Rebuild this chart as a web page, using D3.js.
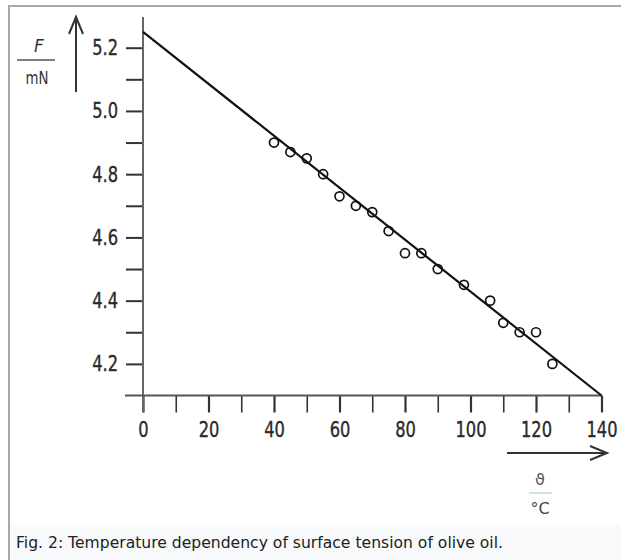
<!DOCTYPE html>
<html>
<head>
<meta charset="utf-8">
<script src="https://cdn.jsdelivr.net/npm/d3@7"></script>
<style>
    body { margin: 0; background: #fff; }
    svg { display: block; }
</style>
</head>
<body>
<script>
// measured points (temperature in °C, surface tension in mN)
const temps = [40, 45, 50, 55, 60, 65, 70, 75, 80, 85, 90, 98, 106, 110, 115, 120, 125]
const tension = [4.90, 4.87, 4.85, 4.80, 4.73, 4.70, 4.68, 4.62, 4.55, 4.55, 4.50, 4.45, 4.40, 4.33, 4.30, 4.30, 4.20]

// fitted straight line
const fitX = [0, 140]
const fitY = [5.25, 4.10]

const xMajor = [0, 20, 40, 60, 80, 100, 120, 140]
const xMinor = [10, 30, 50, 70, 90, 110, 130]
const yMajor = [4.2, 4.4, 4.6, 4.8, 5.0, 5.2]
const yMinor = [4.3, 4.5, 4.7, 4.9, 5.1]

const caption = "Fig. 2: Temperature dependency of surface tension of olive oil."

const WIDTH = 621
const HEIGHT = 560
const SQUEEZE = 0.74

const svg = d3.select("body")
    .append("svg")
    .attr("width", WIDTH)
    .attr("height", HEIGHT)

const xScale = d3.scaleLinear()
    .domain([0, 140])
    .range([143, 601.5])

const yScale = d3.scaleLinear()
    .domain([4.1, 5.2])
    .range([395.5, 47.7])

// frame and caption band
svg.append("rect")
    .attr("x", 9).attr("y", 525)
    .attr("width", WIDTH - 9).attr("height", HEIGHT - 525)
    .attr("fill", "#f8f9fa")

svg.append("path")
    .attr("d", "M9," + HEIGHT + " V6 H" + WIDTH)
    .attr("fill", "none")
    .attr("stroke", "#a8a8a8")
    .attr("stroke-width", 2)

svg.append("text")
    .attr("x", 16)
    .attr("y", 548)
    .attr("font-family", "DejaVu Sans")
    .attr("font-size", 15.6)
    .attr("fill", "#202122")
    .text(caption)

const labelFont = "DejaVu Sans"

// axes
const yAxis = d3.axisLeft(yScale)
    .tickValues(yMajor.concat(yMinor))
    .tickSize(17)
    .tickPadding(7)
    .tickFormat(d => yMajor.some(v => Math.abs(v - d) < 1e-9) ? d3.format(".1f")(d) : "")

const xAxis = d3.axisBottom(xScale)
    .tickValues(xMajor.concat(xMinor))
    .tickSize(17)
    .tickPadding(9)
    .tickFormat(d => xMajor.includes(d) ? d : "")

const gy = svg.append("g")
    .attr("transform", "translate(" + xScale(0) + ",0)")
    .call(yAxis)

const gx = svg.append("g")
    .attr("transform", "translate(0," + yScale(4.1) + ")")
    .call(xAxis)

for (const g of [gx, gy]) {
    g.select(".domain").remove()
    g.selectAll(".tick line")
        .attr("stroke", "#333")
        .attr("stroke-width", 2)
    g.selectAll(".tick text")
        .attr("font-family", labelFont)
        .attr("font-size", 22)
        .attr("fill", "#2a2a2a")
        .attr("stroke", "#2a2a2a")
        .attr("stroke-width", 0.4)
}

gy.selectAll(".tick text")
    .attr("x", -25 / SQUEEZE)
    .attr("transform", "scale(" + SQUEEZE + ",1)")

gx.selectAll(".tick text")
    .attr("transform", "scale(" + SQUEEZE + ",1)")
gx.selectAll(".tick line")
    .attr("stroke-width", d => xMajor.includes(d) ? 2.2 : 1.6)

// axis lines, both run past the origin
svg.append("line")
    .attr("x1", xScale(0)).attr("x2", xScale(0))
    .attr("y1", 17).attr("y2", yScale(4.1) + 17)
    .attr("stroke", "#666")
    .attr("stroke-width", 2)

svg.append("line")
    .attr("x1", xScale(0) - 18).attr("x2", xScale(140))
    .attr("y1", yScale(4.1)).attr("y2", yScale(4.1))
    .attr("stroke", "#555")
    .attr("stroke-width", 2)

// fit line
svg.append("path")
    .datum(d3.zip(fitX, fitY))
    .attr("d", d3.line().x(d => xScale(d[0])).y(d => yScale(d[1])))
    .attr("fill", "none")
    .attr("stroke", "#111")
    .attr("stroke-width", 2.2)

// measured points
svg.selectAll("circle.pt")
    .data(d3.zip(temps, tension))
    .enter()
    .append("circle")
    .attr("class", "pt")
    .attr("cx", d => xScale(d[0]))
    .attr("cy", d => yScale(d[1]))
    .attr("r", 4.5)
    .attr("fill", "none")
    .attr("stroke", "#111")
    .attr("stroke-width", 1.7)

// quantity arrows
svg.append("path")
    .attr("d", "M76,92 V18 M69,34 L76,17 L83,34")
    .attr("fill", "none")
    .attr("stroke", "#333")
    .attr("stroke-width", 2)

svg.append("path")
    .attr("d", "M507,453 H606 M590,446 L607,453 L590,460")
    .attr("fill", "none")
    .attr("stroke", "#333")
    .attr("stroke-width", 2)

// y quantity label F / mN
svg.append("text")
    .attr("x", 39).attr("y", 52)
    .attr("text-anchor", "middle")
    .attr("font-family", labelFont)
    .attr("font-size", 17)
    .attr("font-style", "italic")
    .attr("fill", "#333")
    .text("F")

svg.append("line")
    .attr("x1", 17).attr("x2", 55)
    .attr("y1", 60).attr("y2", 60)
    .attr("stroke", "#555")
    .attr("stroke-width", 1.5)

svg.append("text")
    .attr("transform", "translate(37,84) scale(" + SQUEEZE + ",1)")
    .attr("text-anchor", "middle")
    .attr("font-family", labelFont)
    .attr("font-size", 18)
    .attr("fill", "#333")
    .text("mN")

// x quantity label ϑ / °C
svg.append("text")
    .attr("x", 540).attr("y", 485)
    .attr("text-anchor", "middle")
    .attr("font-family", labelFont)
    .attr("font-size", 16)
    .attr("fill", "#555")
    .text("ϑ")

svg.append("line")
    .attr("x1", 529).attr("x2", 552)
    .attr("y1", 493).attr("y2", 493)
    .attr("stroke", "#bbb")
    .attr("stroke-width", 1)

svg.append("text")
    .attr("x", 540).attr("y", 514)
    .attr("text-anchor", "middle")
    .attr("font-family", labelFont)
    .attr("font-size", 16)
    .attr("fill", "#444")
    .text("°C")
</script>
</body>
</html>
